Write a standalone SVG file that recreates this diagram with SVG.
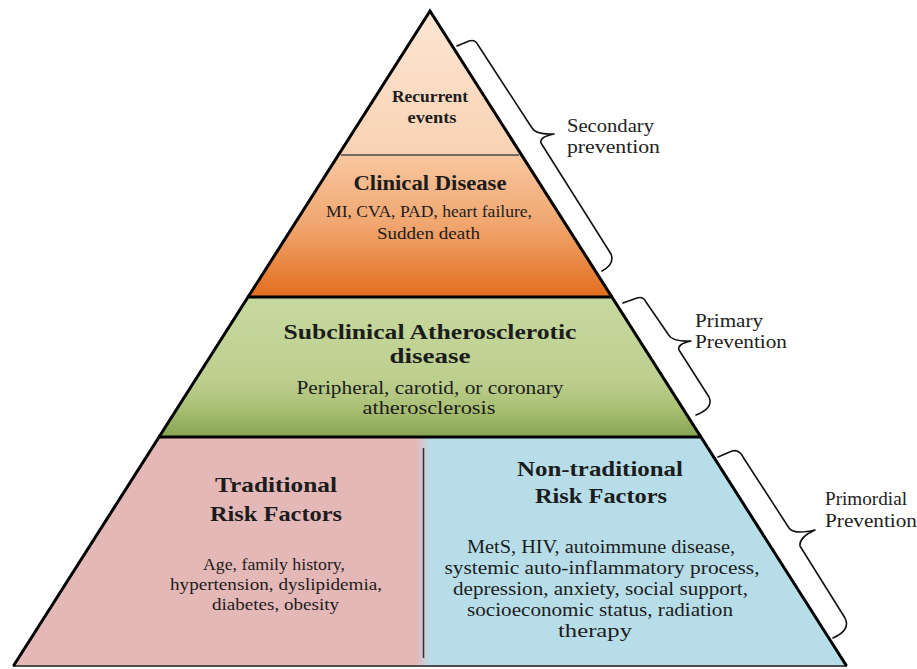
<svg xmlns="http://www.w3.org/2000/svg" width="917" height="669" viewBox="0 0 917 669">
  <defs>
    <linearGradient id="gRec" x1="0" y1="11" x2="0" y2="155" gradientUnits="userSpaceOnUse">
      <stop offset="0" stop-color="#fde6d4"/>
      <stop offset="1" stop-color="#f9d2b3"/>
    </linearGradient>
    <linearGradient id="gClin" x1="0" y1="155" x2="0" y2="297" gradientUnits="userSpaceOnUse">
      <stop offset="0" stop-color="#f7c7a0"/>
      <stop offset="0.5" stop-color="#f0a56e"/>
      <stop offset="1" stop-color="#e36d1d"/>
    </linearGradient>
    <linearGradient id="gSub" x1="0" y1="297" x2="0" y2="437" gradientUnits="userSpaceOnUse">
      <stop offset="0" stop-color="#c7d99f"/>
      <stop offset="0.6" stop-color="#bccf8e"/>
      <stop offset="0.8" stop-color="#a9bf73"/>
      <stop offset="1" stop-color="#86a352"/>
    </linearGradient>
    <linearGradient id="gBot" x1="416" y1="0" x2="430" y2="0" gradientUnits="userSpaceOnUse">
      <stop offset="0" stop-color="#e5b8b8"/>
      <stop offset="1" stop-color="#b7dde8"/>
    </linearGradient>
    <style>
      .h { font-family: "Liberation Serif", serif; font-weight: bold; fill: #1c1c1c; text-anchor: middle; }
      .b { font-family: "Liberation Serif", serif; fill: #1c1c1c; text-anchor: middle; }
      .l { font-family: "Liberation Serif", serif; fill: #222; text-anchor: start; font-size: 18px; }
      .brace { fill: none; stroke: #111; stroke-width: 1.6; stroke-linejoin: round; stroke-linecap: round; }
    </style>
  </defs>
  <rect width="917" height="669" fill="#ffffff"/>

  <g id="tier-recurrent">
    <polygon points="430,11 521.6,155 338.4,155" fill="url(#gRec)"/>
    <text class="h" x="430" y="102" font-size="17" textLength="76" lengthAdjust="spacingAndGlyphs">Recurrent</text>
    <text class="h" x="432" y="123" font-size="17" textLength="49" lengthAdjust="spacingAndGlyphs">events</text>
  </g>

  <g id="tier-clinical">
    <polygon points="338.4,155 521.6,155 611.9,297 248.1,297" fill="url(#gClin)"/>
    <line x1="341" y1="155" x2="519" y2="155" stroke="#4a4a4a" stroke-width="1.5"/>
    <text class="h" x="430" y="190" font-size="22" textLength="153" lengthAdjust="spacingAndGlyphs">Clinical Disease</text>
    <text class="b" x="429" y="217" font-size="17.5" textLength="206" lengthAdjust="spacingAndGlyphs">MI, CVA, PAD, heart failure,</text>
    <text class="b" x="428.5" y="239" font-size="17.5" textLength="103" lengthAdjust="spacingAndGlyphs">Sudden death</text>
  </g>

  <g id="tier-subclinical">
    <polygon points="248.1,297 611.9,297 700.9,437 159.1,437" fill="url(#gSub)"/>
    <text class="h" x="430" y="339" font-size="22" textLength="293" lengthAdjust="spacingAndGlyphs">Subclinical Atherosclerotic</text>
    <text class="h" x="430" y="363" font-size="22" textLength="81" lengthAdjust="spacingAndGlyphs">disease</text>
    <text class="b" x="430" y="394" font-size="19" textLength="267" lengthAdjust="spacingAndGlyphs">Peripheral, carotid, or coronary</text>
    <text class="b" x="429" y="414" font-size="19" textLength="133" lengthAdjust="spacingAndGlyphs">atherosclerosis</text>
  </g>

  <g id="tier-traditional">
    <polygon points="159.1,437 423,437 423,666 13.4,666" fill="url(#gBot)"/>
    <text class="h" x="276" y="492" font-size="22" textLength="122" lengthAdjust="spacingAndGlyphs">Traditional</text>
    <text class="h" x="276" y="521" font-size="22" textLength="132" lengthAdjust="spacingAndGlyphs">Risk Factors</text>
    <text class="b" x="274" y="570" font-size="17.5" textLength="142" lengthAdjust="spacingAndGlyphs">Age, family history,</text>
    <text class="b" x="276" y="590" font-size="17.5" textLength="212" lengthAdjust="spacingAndGlyphs">hypertension, dyslipidemia,</text>
    <text class="b" x="275.5" y="610" font-size="17.5" textLength="127" lengthAdjust="spacingAndGlyphs">diabetes, obesity</text>
  </g>

  <g id="tier-nontraditional">
    <polygon points="423,437 700.9,437 846.6,666 423,666" fill="url(#gBot)"/>
    <line x1="423.5" y1="448" x2="423.5" y2="658" stroke="#333" stroke-width="1.5"/>
    <text class="h" x="600" y="476" font-size="22" textLength="166" lengthAdjust="spacingAndGlyphs">Non-traditional</text>
    <text class="h" x="601" y="503" font-size="22" textLength="132" lengthAdjust="spacingAndGlyphs">Risk Factors</text>
    <text class="b" x="601" y="553" font-size="18.5" textLength="268" lengthAdjust="spacingAndGlyphs">MetS, HIV, autoimmune disease,</text>
    <text class="b" x="602" y="574" font-size="18.5" textLength="315" lengthAdjust="spacingAndGlyphs">systemic auto-inflammatory process,</text>
    <text class="b" x="600.5" y="595" font-size="18.5" textLength="295" lengthAdjust="spacingAndGlyphs">depression, anxiety, social support,</text>
    <text class="b" x="600" y="616" font-size="18.5" textLength="266" lengthAdjust="spacingAndGlyphs">socioeconomic status, radiation</text>
    <text class="b" x="595" y="637" font-size="18.5" textLength="74" lengthAdjust="spacingAndGlyphs">therapy</text>
  </g>

  <g id="frame" fill="none" stroke="#000">
    <line x1="247" y1="297" x2="613" y2="297" stroke-width="3"/>
    <line x1="158" y1="437" x2="702" y2="437" stroke-width="3"/>
    <line x1="13" y1="666" x2="847" y2="666" stroke="#4d4d4d" stroke-width="2"/>
    <path d="M13.4,666 L430,11 L846.6,666" stroke-width="3" stroke-linejoin="miter"/>
  </g>

  <g id="connectors">
    <path class="brace" d="M457,46 L469,41 Q475,39 478,45 L532,128 Q536,135 554,134 Q539,137 541,143 L611,254 Q615,264 602,271"/>
    <path class="brace" d="M623,303 L637,298 Q643,296 646,302 L668,334 Q672,342 691,341 Q677,344 679,350 L709,397 Q714,408 696,415"/>
    <path class="brace" d="M718,457 L732,451 Q739,449 743,457 L789,528 Q794,535 815,530 Q799,537 800,546 L845,618 Q851,630 833,638"/>
  </g>

  <g id="label-secondary">
    <text class="l" x="567" y="132" textLength="87" lengthAdjust="spacingAndGlyphs">Secondary</text>
    <text class="l" x="567" y="153" textLength="93" lengthAdjust="spacingAndGlyphs">prevention</text>
  </g>
  <g id="label-primary">
    <text class="l" x="695" y="327" textLength="68" lengthAdjust="spacingAndGlyphs">Primary</text>
    <text class="l" x="695" y="348" textLength="92" lengthAdjust="spacingAndGlyphs">Prevention</text>
  </g>
  <g id="label-primordial">
    <text class="l" x="825" y="505" textLength="82" lengthAdjust="spacingAndGlyphs">Primordial</text>
    <text class="l" x="825" y="527" textLength="92" lengthAdjust="spacingAndGlyphs">Prevention</text>
  </g>
</svg>
